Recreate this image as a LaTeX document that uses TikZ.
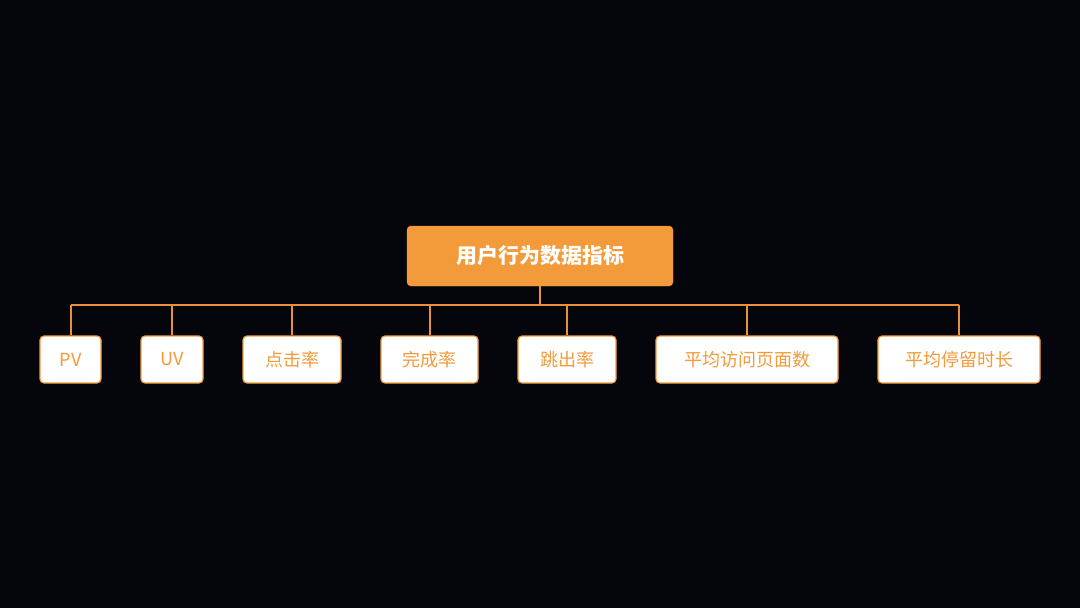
\documentclass[tikz,border=0pt]{standalone}
\usepackage{fontspec}
\setmainfont{Noto Sans CJK SC}
\definecolor{bg}{HTML}{05050C}
\definecolor{org}{HTML}{F39A3A}
\definecolor{orgline}{HTML}{E8903A}
\begin{document}
\begin{tikzpicture}[x=1pt,y=-1pt,
  root/.style={draw=org,fill=org,rounded corners=4pt,text=white,font=\bfseries\fontsize{21}{24}\selectfont,minimum width=266pt,minimum height=60pt,inner sep=0pt},
  leaf/.style={draw=org,line width=1.2pt,fill=white,rounded corners=4pt,text=org,font=\fontsize{18}{21}\selectfont,minimum height=47pt,inner sep=0pt},
  bus/.style={orgline,line width=2pt}]
\fill[bg] (0,0) rectangle (1080,608);
\useasboundingbox (0,0) rectangle (1080,608);
\node[root] (r) at (540,256) {用户行为数据指标};
\node[leaf,minimum width=61pt] (a) at (70.5,359.5) {PV};
\node[leaf,minimum width=62pt] (b) at (172,359.5) {UV};
\node[leaf,minimum width=98pt] (c) at (292,359.5) {点击率};
\node[leaf,minimum width=97pt] (d) at (429.5,359.5) {完成率};
\node[leaf,minimum width=98pt] (e) at (567,359.5) {跳出率};
\node[leaf,minimum width=182pt] (f) at (747,359.5) {平均访问页面数};
\node[leaf,minimum width=162pt] (g) at (959,359.5) {平均停留时长};
\coordinate (bl) at (a.north |- 0,305);
\coordinate (br) at (g.north |- 0,305);
\draw[bus] (bl) -- (br);
\draw[bus] (r.south) -- (r.south |- bl);
\foreach \n in {a,b,c,d,e,f,g} \draw[bus] (\n.north |- bl) -- (\n.north);
\end{tikzpicture}
\end{document}
